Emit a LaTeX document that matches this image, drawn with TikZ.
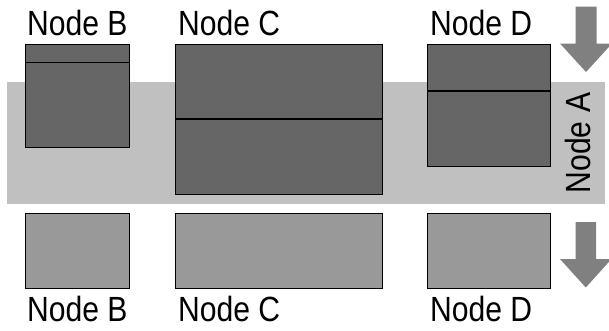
\documentclass[tikz,border=0pt]{standalone}
\usepackage{fontspec}
\setmainfont{Liberation Sans}[FakeStretch=0.86]
\begin{document}
\begin{tikzpicture}[x=1pt,y=-1pt,
  lbl/.style={inner sep=0pt, font=\fontsize{35}{40}\selectfont, anchor=base west},
  band/.style={fill=bandgray, draw=none, inner sep=0pt, anchor=north west},
  darkbox/.style={fill=darkgray!100, draw=black, line width=1.4pt, inner sep=0pt, anchor=north west},
  lightbox/.style={fill=lightgray!100, draw=black, line width=1.4pt, inner sep=0pt, anchor=north west},
  divider/.style={draw=black, line width=1.4pt},
  flow/.style={fill=arrowgray, draw=none}]
\definecolor{bandgray}{HTML}{C0C0C0}
\definecolor{darkgray}{HTML}{666666}
\definecolor{lightgray}{HTML}{999999}
\definecolor{arrowgray}{HTML}{808080}
\useasboundingbox (0,0) rectangle (609,330);
\clip (0,0) rectangle (609,330);

% shared band
\node[band, minimum width=598pt, minimum height=122pt] (A) at (7,82) {};
\node[inner sep=0pt, font=\fontsize{35}{40}\selectfont, rotate=90, anchor=base] (Alabel) at (590,143) {Node A};

% upper row
\node[darkbox, minimum width=104pt, minimum height=103pt] (Bt) at (25,44) {};
\node[darkbox, minimum width=207pt, minimum height=150pt] (Ct) at (175,44) {};
\node[darkbox, minimum width=123pt, minimum height=122pt] (Dt) at (427,44) {};
\draw[divider] (Bt.west |- 0,62.5) -- (Bt.east |- 0,62.5);
\draw[divider] (Ct.west |- 0,119) -- (Ct.east |- 0,119);
\draw[divider] (Dt.west |- 0,91) -- (Dt.east |- 0,91);

\node[lbl] (Btl) at (27,35) {Node B};
\node[lbl] (Ctl) at (178,35) {Node C};
\node[lbl] (Dtl) at (430,35) {Node D};

% lower row
\node[lightbox, minimum width=104pt, minimum height=75pt] (Bb) at (25,213) {};
\node[lightbox, minimum width=207pt, minimum height=75pt] (Cb) at (175,213) {};
\node[lightbox, minimum width=123pt, minimum height=75pt] (Db) at (427,213) {};

\node[lbl] (Bbl) at (27,321) {Node B};
\node[lbl] (Cbl) at (178,321) {Node C};
\node[lbl] (Dbl) at (430,321) {Node D};

% direction arrows
\fill[flow] (575.5,6.5) -- (596.5,6.5) -- (596.5,43.5) -- (612,43.5)
  -- (586,72) -- (560,43.5) -- (575.5,43.5) -- cycle;
\fill[flow] (575.5,222) -- (596,222) -- (596,259) -- (611.5,259)
  -- (585.75,287.5) -- (560,259) -- (575.5,259) -- cycle;
\end{tikzpicture}
\end{document}
